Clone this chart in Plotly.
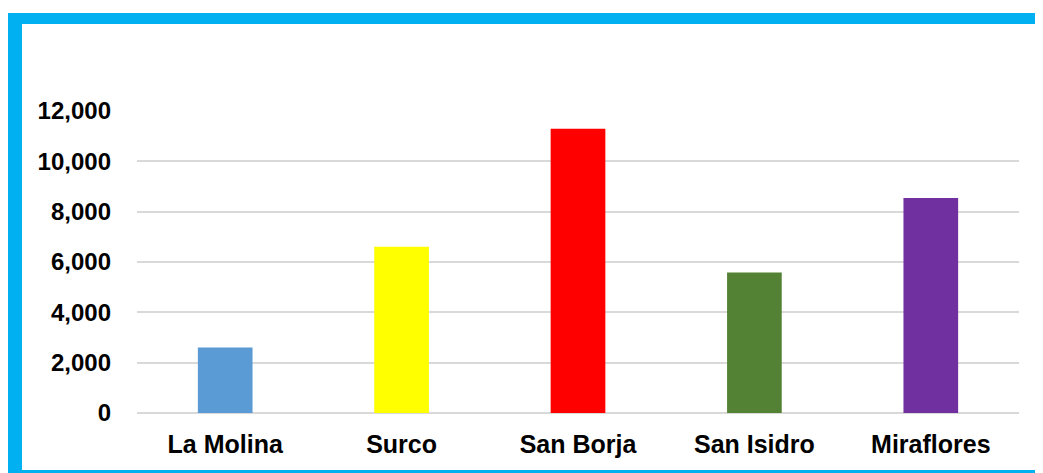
import plotly.graph_objects as go

districts = ["La Molina", "Surco", "San Borja", "San Isidro", "Miraflores"]
values = [2600, 6610, 11290, 5580, 8540]
bar_colors = ["#5B9BD5", "#FFFF00", "#FF0000", "#548235", "#7030A0"]
y_ticks = [0, 2000, 4000, 6000, 8000, 10000, 12000]

FRAME = "#00B0F0"
FONT = "Liberation Sans, Arial, sans-serif"

# the page puts the figure 8px in from the top-left corner
OFF = 8
W, H = 1043 - OFF, 473 - OFF
L, T, B, R = 137 - OFF, 111 - OFF, 473 - 413, 1043 - 1019
PW, PH = W - L - R, H - T - B


def px_x(x):
    return (x - OFF - L) / PW


def px_y(y):
    return (H - B - (y - OFF)) / PH


fig = go.Figure(
    go.Bar(
        x=districts,
        y=values,
        marker={"color": bar_colors, "line": {"width": 0}},
        width=0.31,
    )
)

frame = dict(type="rect", xref="paper", yref="paper", fillcolor=FRAME, line={"width": 0}, layer="below")
fig.update_layout(
    width=W,
    height=H,
    margin={"l": L, "r": R, "t": T, "b": B, "pad": 0},
    paper_bgcolor="white",
    plot_bgcolor="white",
    showlegend=False,
    font={"family": FONT, "color": "#000000"},
    shapes=[
        dict(frame, x0=px_x(8), x1=px_x(1043), y0=px_y(24), y1=px_y(13)),
        dict(frame, x0=px_x(8), x1=px_x(22), y0=px_y(473), y1=px_y(13)),
        dict(frame, x0=px_x(1040), x1=px_x(1043), y0=px_y(473), y1=px_y(13)),
        dict(frame, x0=px_x(8), x1=px_x(1043), y0=px_y(473), y1=px_y(470)),
    ],
)

fig.update_xaxes(
    showgrid=False,
    showline=False,
    ticks="",
    tickfont={"size": 25, "family": FONT, "weight": "bold"},
    ticklabelstandoff=14,
)
fig.update_yaxes(
    range=[0, 12000],
    tickvals=y_ticks,
    tickformat=",d",
    showgrid=True,
    gridcolor="#D9D9D9",
    gridwidth=2,
    zeroline=True,
    zerolinecolor="#D9D9D9",
    zerolinewidth=2,
    showline=False,
    ticks="",
    tickfont={"size": 24, "family": FONT, "weight": "bold"},
    ticklabelstandoff=25,
)

fig.write_html("out.html")
